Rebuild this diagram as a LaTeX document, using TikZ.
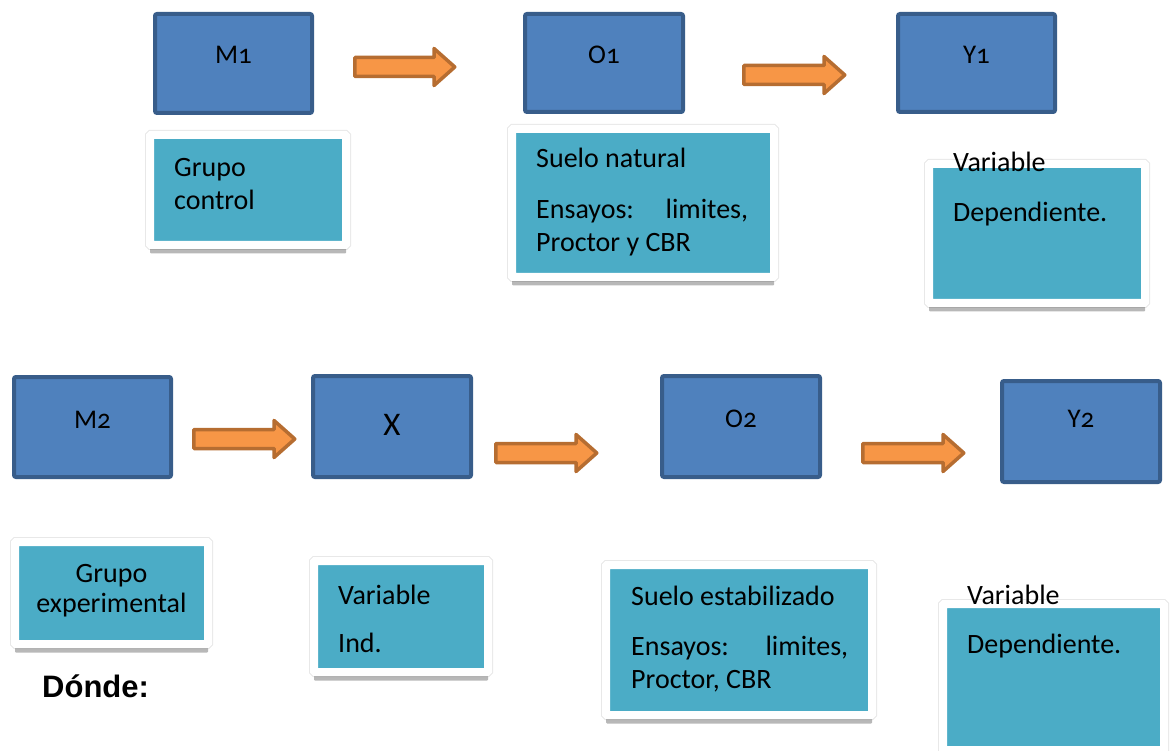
\documentclass[tikz,border=0pt]{standalone}
\usepackage{fontspec}
\setmainfont{Carlito}
\newfontfamily\lblfont[Numbers=OldStyle]{Carlito}
\newfontfamily\arialfont{Liberation Sans}
\usetikzlibrary{shadows}
\definecolor{boxblue}{HTML}{4F81BD}
\definecolor{boxblueline}{HTML}{385D8A}
\definecolor{boxteal}{HTML}{4BACC6}
\definecolor{arrfill}{HTML}{F79646}
\definecolor{arrline}{HTML}{B66D31}
\tikzset{
  bluebox/.style={rectangle, fill=boxblue, draw=boxblueline, line width=4pt,
    rounded corners=2pt, inner sep=0pt, outer sep=0pt},
  bluelbl/.style={font=\lblfont\fontsize{27}{30}\selectfont, inner sep=0pt, anchor=base},
  tealbox/.style={rectangle, fill=boxteal, draw=white, line width=8pt,
    rounded corners=1pt, inner sep=0pt, outer sep=0pt,
    preaction={draw=black!9, line width=10pt},
    drop shadow={shadow xshift=0pt, shadow yshift=-8.5pt, fill=black, opacity=0.28}},
  txt/.style={font=\fontsize{28}{33}\selectfont, inner sep=0pt, anchor=base west},
  txtc/.style={font=\fontsize{28}{33}\selectfont, inner sep=0pt, anchor=base},
  blockarr/.style={fill=arrfill, draw=arrline, line width=3.5pt, line join=round},
}
\newcommand\blockarrow[3]{%
  \draw[blockarr] (#1+1.75,#3-9.5) -- (#2-23,#3-9.5) -- (#2-23,#3-18.5) -- (#2-2.2,#3)
    -- (#2-23,#3+18.5) -- (#2-23,#3+9.5) -- (#1+1.75,#3+9.5) -- cycle;}
\begin{document}
\begin{tikzpicture}[x=1pt,y=-1pt]
\useasboundingbox (0,0) rectangle (1170,751);
% ---------- row 1 ----------
\node[bluebox, minimum width=157pt, minimum height=99pt] (M1) at (233.5,63.5) {};
\node[bluelbl] (M1l) at (233.5,64) {M1};
\node[bluebox, minimum width=158pt, minimum height=98pt] (O1) at (604,63) {};
\node[bluelbl] (O1l) at (604,64) {O1};
\node[bluebox, minimum width=157pt, minimum height=98pt] (Y1) at (976.5,63) {};
\node[bluelbl] (Y1l) at (976.5,64) {Y1};
\blockarrow{353}{457}{67}
\blockarrow{742}{847}{75}

\node[tealbox, minimum width=196pt, minimum height=110pt] (T1) at (248,190) {};
\node[txt] (T1a) at (174,177) {Grupo};
\node[txt] (T1b) at (174,210) {control};

\node[tealbox, minimum width=262pt, minimum height=148pt] (T2) at (643,203) {};
\node[txt] (T2a) at (536,168) {Suelo natural};
\node[txt] (T2b) at (536,219) {\makebox[212pt][s]{Ensayos:\hfill limites,}};
\node[txt] (T2c) at (536,252) {Proctor y CBR};

\node[tealbox, minimum width=216pt, minimum height=139pt] (T3) at (1037,233.5) {};
\node[txt] (T3a) at (953,172) {Variable};
\node[txt] (T3b) at (953,222) {Dependiente.};

% ---------- row 2 ----------
\node[bluebox, minimum width=157pt, minimum height=100pt] (M2) at (92.5,427) {};
\node[bluelbl] (M2l) at (92.5,428) {M2};
\node[bluebox, minimum width=158pt, minimum height=101pt] (X) at (392,426.5) {};
\node[bluelbl, font=\fontsize{33}{36}\selectfont] (Xl) at (392,435) {X};
\node[bluebox, minimum width=158pt, minimum height=101pt] (O2) at (741,426.5) {};
\node[bluelbl] (O2l) at (741,427) {O2};
\node[bluebox, minimum width=158pt, minimum height=101pt] (Y2) at (1081,431.5) {};
\node[bluelbl] (Y2l) at (1081,427) {Y2};
\blockarrow{192}{297}{439}
\blockarrow{494}{599}{453}
\blockarrow{861}{966}{453}

\node[tealbox, minimum width=193pt, minimum height=102pt] (T4) at (111.5,593) {};
\node[txtc] (T4a) at (111.5,582) {Grupo};
\node[txtc] (T4b) at (111.5,612) {experimental};

\node[tealbox, minimum width=174pt, minimum height=111pt] (T5) at (401,616.5) {};
\node[txt] (T5a) at (338,604) {Variable};
\node[txt] (T5b) at (338,652) {Ind.};

\node[tealbox, minimum width=266pt, minimum height=150pt] (T6) at (739,640) {};
\node[txt] (T6a) at (631,605) {Suelo estabilizado};
\node[txt] (T6b) at (631,655) {\makebox[217pt][s]{Ensayos:\hfill limites,}};
\node[txt] (T6c) at (631,688) {Proctor, CBR};

\node[tealbox, minimum width=221pt, minimum height=146pt] (T7) at (1053.5,677) {};
\node[txt] (T7a) at (967,604) {Variable};
\node[txt] (T7b) at (967,653) {Dependiente.};

\node[txt, font=\arialfont\bfseries\fontsize{31}{36}\selectfont] (donde) at (42,697) {Dónde:};
\end{tikzpicture}
\end{document}
